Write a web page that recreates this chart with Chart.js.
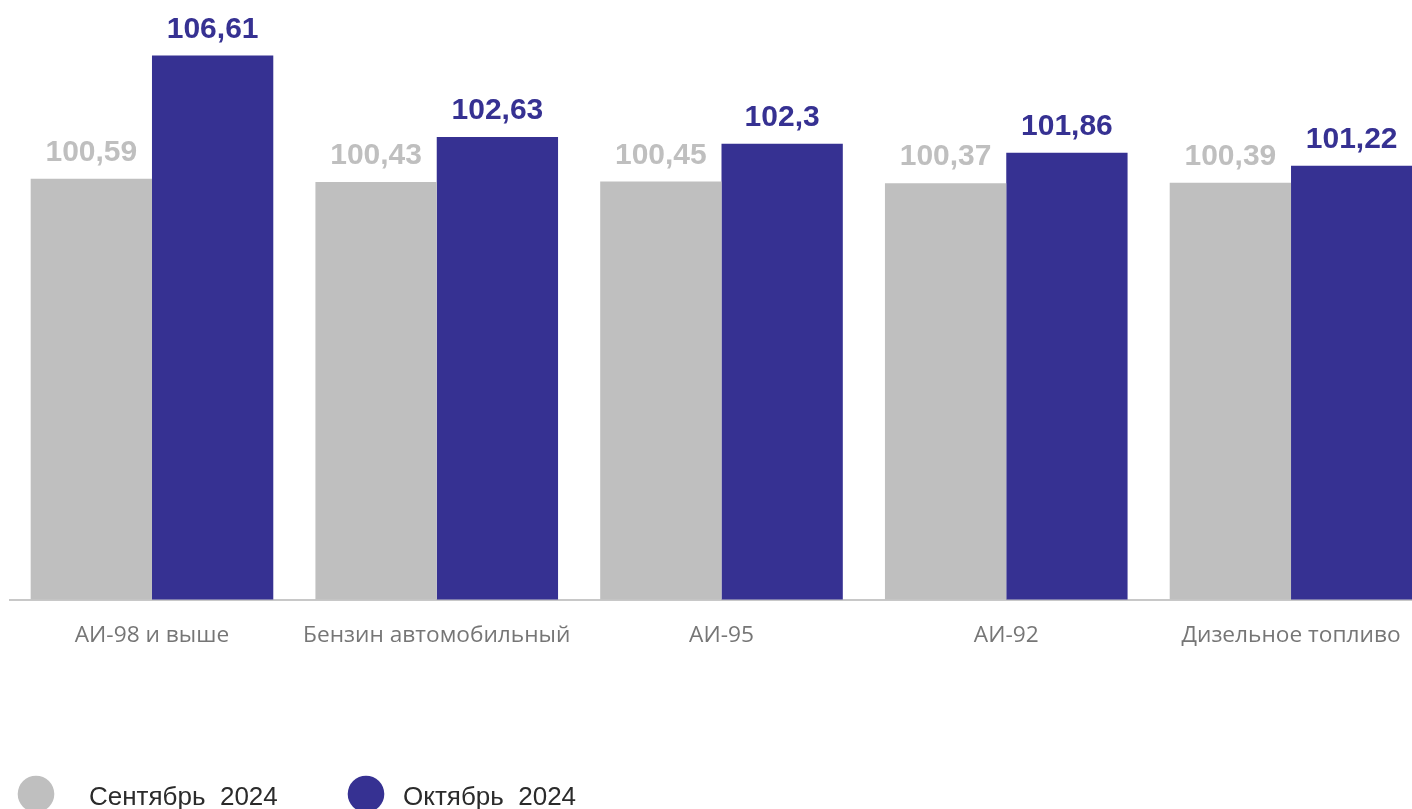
<!DOCTYPE html>
<html>
<head>
<meta charset="utf-8">
<script src="https://cdn.jsdelivr.net/npm/chart.js@4"></script>
<style>
  html, body { margin: 0; padding: 0; background: #ffffff; overflow: hidden; }
  #wrap { width: 1434px; height: 809px; }
</style>
</head>
<body>
<div id="wrap"><canvas id="c" width="1434" height="809"></canvas></div>
<script>
const categories = ['АИ-98 и выше', 'Бензин автомобильный', 'АИ-95', 'АИ-92', 'Дизельное топливо'];
const seriesNames = ['Сентябрь  2024', 'Октябрь  2024'];
const september = [100.59, 100.43, 100.45, 100.37, 100.39];
const october = [106.61, 102.63, 102.3, 101.86, 101.22];
const colors = ['#BFBFBF', '#363192'];

const fmt = v => String(v).replace('.', ',');

const valueLabels = {
  id: 'valueLabels',
  afterDatasetsDraw(chart) {
    const ctx = chart.ctx;
    ctx.save();
    ctx.font = 'bold 30px "Liberation Sans", Arial, sans-serif';
    ctx.textAlign = 'center';
    ctx.textBaseline = 'alphabetic';
    chart.data.datasets.forEach((ds, di) => {
      const meta = chart.getDatasetMeta(di);
      ctx.fillStyle = ds.backgroundColor;
      meta.data.forEach((bar, i) => {
        ctx.fillText(fmt(ds.data[i]), bar.x, bar.y - 18);
      });
    });
    ctx.restore();
  }
};

const customLegend = {
  id: 'customLegend',
  afterDraw(chart) {
    const ctx = chart.ctx;
    const items = [{cx: 36, tx: 89}, {cx: 366, tx: 403}];
    ctx.save();
    ctx.font = '26px "Liberation Sans", Arial, sans-serif';
    ctx.textBaseline = 'alphabetic';
    ctx.textAlign = 'left';
    chart.data.datasets.forEach((ds, di) => {
      const it = items[di];
      ctx.fillStyle = ds.backgroundColor;
      ctx.beginPath();
      ctx.arc(it.cx, 794, 18.3, 0, Math.PI * 2);
      ctx.fill();
      ctx.fillStyle = '#2b2b2b';
      ctx.fillText(ds.label, it.tx, 805);
    });
    ctx.restore();
  }
};

new Chart(document.getElementById('c'), {
  type: 'bar',
  data: {
    labels: categories,
    datasets: [
      { label: seriesNames[0], data: september, backgroundColor: colors[0] },
      { label: seriesNames[1], data: october, backgroundColor: colors[1] }
    ]
  },
  options: {
    responsive: false,
    animation: false,
    devicePixelRatio: 1,
    layout: { padding: { left: 9.6, right: 0.6, top: 27.2, bottom: 0 } },
    datasets: { bar: { categoryPercentage: 0.852, barPercentage: 1.0, borderWidth: 0 } },
    plugins: { legend: { display: false }, tooltip: { enabled: false } },
    scales: {
      x: {
        grid: { display: false, drawTicks: false },
        border: { display: true, color: '#C8C8C8', width: 2 },
        ticks: {
          color: '#767676',
          font: { family: '"Open Sans", sans-serif', size: 22.7 },
          padding: 22.5,
          autoSkip: false,
          maxRotation: 0,
          minRotation: 0
        },
        afterFit(scale) { scale.height = 209.5; }
      },
      y: {
        display: false,
        min: 80,
        max: 108
      }
    }
  },
  plugins: [valueLabels, customLegend]
});
</script>
</body>
</html>
